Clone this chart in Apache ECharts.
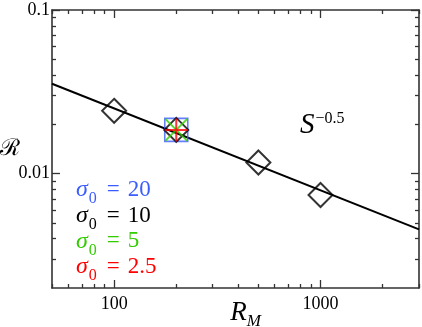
<!DOCTYPE html>
<html>
<head>
<meta charset="utf-8">
<title>R vs R_M</title>
<script src="https://cdn.jsdelivr.net/npm/echarts@6/dist/echarts.min.js"></script>
<style>
  html, body { margin: 0; padding: 0; background: #fff; }
  #chart { width: 422px; height: 327px; }
</style>
</head>
<body>
<div id="chart"></div>
<script>
// runs at different sigma_0 (R_M, R)
var rmSigma20 = [200]
var rSigma20 = [0.0185]
var rmSigma10 = [100, 200, 500, 1000]
var rSigma10 = [0.0242, 0.0185, 0.0117, 0.0074]
var rmSigma5 = [200]
var rSigma5 = [0.0185]
var rmSigma25 = [200]
var rSigma25 = [0.0185]

// S^-0.5 guide line, end points
var fitX = [50, 3000]
var fitY = [0.0354, 0.00456]

var sigmaValues = ['20', '10', '5', '2.5']
var sigmaColors = ['#3c5cff', '#000000', '#33cc00', '#ff0000']

// ticks
var xMajor = [100, 1000]
var xMinor = [50, 60, 70, 80, 90, 200, 300, 400, 500, 600, 700, 800, 900, 2000, 3000]
var yMajor = [0.01, 0.1]
var yMinor = [0.003, 0.004, 0.005, 0.006, 0.007, 0.008, 0.009,
  0.02, 0.03, 0.04, 0.05, 0.06, 0.07, 0.08, 0.09]

var serif = 'Liberation Serif'
var axisColor = '#333'

function pair (xs, ys) {
  return xs.map(function (x, i) { return [x, ys[i]] })
}

function logAxis (min, max, pos, ticks, len, opts) {
  var ax = {
    type: 'log',
    logBase: 10,
    min: min,
    max: max,
    position: pos,
    axisLine: { show: false },
    splitLine: { show: false },
    axisTick: {
      show: true,
      inside: true,
      length: len,
      customValues: ticks,
      lineStyle: { color: axisColor, width: 1.3 }
    },
    axisLabel: { show: false }
  }
  return Object.assign(ax, opts || {})
}

// legend lines, drawn as text: sigma_0 = value
var legendTexts = sigmaValues.map(function (v, i) {
  return {
    type: 'text',
    left: 76,
    top: 178 + i * 25.7,
    style: {
      text: '{s|σ}{sub|0}{eq|=}{t|' + v + '}',
      fill: sigmaColors[i],
      rich: {
        s: { fontFamily: serif, fontStyle: 'italic', fontSize: 24, fill: sigmaColors[i] },
        sub: { fontFamily: serif, fontSize: 16, fill: sigmaColors[i], verticalAlign: 'bottom', padding: [0, 0, -5, 1] },
        eq: { fontFamily: serif, fontSize: 23, fill: sigmaColors[i], padding: [0, 8, 0, 10] },
        t: { fontFamily: serif, fontSize: 23, fill: sigmaColors[i] }
      }
    }
  }
})

var chart = echarts.init(document.getElementById('chart'))

chart.setOption({
  animation: false,
  grid: { left: 52, right: 3, top: 10, bottom: 39, outerBoundsMode: 'none', containLabel: false },
  xAxis: [
    logAxis(50, 3000, 'bottom', xMajor, 8, {
      axisLine: { show: true, onZero: false, lineStyle: { color: axisColor, width: 1.6 } },
      axisLabel: {
        show: true,
        customValues: xMajor,
        margin: 7,
        color: '#000',
        fontFamily: serif,
        fontSize: 18,
        formatter: function (v) { return String(v) }
      },
      name: '{r|R}{m|M}',
      nameLocation: 'middle',
      nameGap: 11,
      nameMoveOverlap: false,
      nameTextStyle: {
        color: '#000',
        padding: [0, 0, 0, 20],
        rich: {
          r: { fontFamily: serif, fontStyle: 'italic', fontSize: 27, color: '#000' },
          m: { fontFamily: serif, fontStyle: 'italic', fontSize: 17, color: '#000', verticalAlign: 'bottom', padding: [0, 0, -4, 0] }
        }
      }
    }),
    logAxis(50, 3000, 'bottom', xMinor, 4),
    logAxis(50, 3000, 'top', xMajor, 8, {
      axisLine: { show: true, onZero: false, lineStyle: { color: axisColor, width: 1.6 } }
    }),
    logAxis(50, 3000, 'top', xMinor, 4)
  ],
  yAxis: [
    logAxis(0.002, 0.1, 'left', yMajor, 8, {
      axisLine: { show: true, onZero: false, lineStyle: { color: axisColor, width: 1.6 } },
      axisLabel: {
        show: true,
        customValues: yMajor,
        margin: 2,
        color: '#000',
        fontFamily: serif,
        fontSize: 18,
        formatter: function (v) { return String(v) }
      },
      name: 'ℛ',
      nameLocation: 'middle',
      nameRotate: 0,
      nameGap: 32,
      nameMoveOverlap: false,
      nameTextStyle: {
        color: '#000',
        fontFamily: 'DejaVu Serif',
        fontSize: 23,
        padding: [0, 0, 12, 0]
      }
    }),
    logAxis(0.002, 0.1, 'left', yMinor, 4),
    logAxis(0.002, 0.1, 'right', yMajor, 8, {
      axisLine: { show: true, onZero: false, lineStyle: { color: axisColor, width: 1.6 } }
    }),
    logAxis(0.002, 0.1, 'right', yMinor, 4)
  ],
  graphic: legendTexts.concat([{
    type: 'text',
    left: 300,
    top: 111,
    style: {
      text: '{s|S}{p|−0.5}',
      rich: {
        s: { fontFamily: serif, fontStyle: 'italic', fontSize: 29, fill: '#000' },
        p: { fontFamily: serif, fontSize: 16, fill: '#000', verticalAlign: 'top', padding: [0, 0, 8, 1] }
      }
    }
  }]),
  series: [
    {
      name: 'S^-0.5',
      type: 'line',
      data: pair(fitX, fitY),
      showSymbol: false,
      symbol: 'none',
      z: 1,
      lineStyle: { color: '#000', width: 2 }
    },
    {
      name: 'sigma0 = ' + sigmaValues[0],
      type: 'scatter',
      data: pair(rmSigma20, rSigma20),
      symbol: 'rect',
      symbolSize: 23,
      z: 2,
      itemStyle: { color: 'rgba(0,0,0,0)', borderColor: sigmaColors[0], borderWidth: 1.6 }
    },
    {
      name: 'sigma0 = ' + sigmaValues[1],
      type: 'scatter',
      data: pair(rmSigma10, rSigma10),
      symbol: 'diamond',
      symbolSize: 24,
      z: 3,
      itemStyle: { color: 'rgba(0,0,0,0)', borderColor: sigmaColors[1], borderWidth: 2 }
    },
    {
      name: 'sigma0 = ' + sigmaValues[2],
      type: 'scatter',
      data: pair(rmSigma5, rSigma5),
      symbol: 'path://M0,0L10,10M10,0L0,10',
      symbolSize: 22,
      z: 4,
      itemStyle: { color: 'rgba(0,0,0,0)', borderColor: sigmaColors[2], borderWidth: 2 }
    },
    {
      name: 'sigma0 = ' + sigmaValues[3],
      type: 'scatter',
      data: pair(rmSigma25, rSigma25),
      symbol: 'path://M5,0L5,10M0,5L10,5',
      symbolSize: 23,
      z: 5,
      itemStyle: { color: 'rgba(0,0,0,0)', borderColor: sigmaColors[3], borderWidth: 2 }
    }
  ]
})
</script>
</body>
</html>
